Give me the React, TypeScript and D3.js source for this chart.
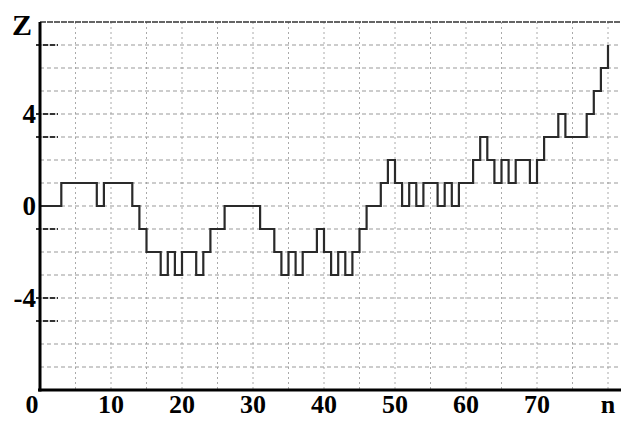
import React, { useEffect, useRef } from 'react';
import * as d3 from 'd3';

// Z level held on each step n = 0..80
const zValues = [
  0, 0, 0, 1, 1, 1, 1, 1, 0, 1,
  1, 1, 1, 0, -1, -2, -2, -3, -2, -3,
  -2, -2, -3, -2, -1, -1, 0, 0, 0, 0,
  0, -1, -1, -2, -3, -2, -3, -2, -2, -1,
  -2, -3, -2, -3, -2, -1, 0, 0, 1, 2,
  1, 0, 1, 0, 1, 1, 0, 1, 0, 1,
  1, 2, 3, 2, 1, 2, 1, 2, 2, 1,
  2, 3, 3, 4, 3, 3, 3, 4, 5, 6,
  7,
];

const xTickLabels = ['0', '10', '20', '30', '40', '50', '60', '70', 'n'];
const xTickValues = [0, 10, 20, 30, 40, 50, 60, 70, 80];
const yTickValues = [4, 0, -4];
const yGridValues = d3.range(-7, 8);
const xGridValues = d3.range(5, 81, 5);
const axisMarks = [7, 4, 3, -1, -4, -5];

const W = 621;
const H = 421;

const App = () => {
  const svgRef = useRef<SVGSVGElement>(null);

  useEffect(() => {
    const svg = d3.select(svgRef.current)
      .attr('width', W)
      .attr('height', H);

    svg.selectAll('*').remove();

    svg.append('rect')
      .attr('width', W)
      .attr('height', H)
      .attr('fill', '#fff');

    const left = 40;
    const right = 608;
    const top = 22;
    const bottom = 390;

    const x = d3.scaleLinear().domain([0, 80]).range([left, right]);
    const y = d3.scaleLinear().domain([-8, 8]).range([bottom, top]);

    // vertical dotted grid
    svg.append('g')
      .selectAll('line')
      .data(xGridValues)
      .join('line')
      .attr('x1', d => x(d))
      .attr('x2', d => x(d))
      .attr('y1', top)
      .attr('y2', bottom)
      .attr('stroke', '#aaa')
      .attr('stroke-width', 1)
      .attr('stroke-dasharray', '2,3');

    // horizontal dashed grid
    svg.append('g')
      .selectAll('line')
      .data(yGridValues)
      .join('line')
      .attr('x1', left)
      .attr('x2', W)
      .attr('y1', d => y(d))
      .attr('y2', d => y(d))
      .attr('stroke', '#999')
      .attr('stroke-width', 1)
      .attr('stroke-dasharray', '4,3');

    // darker marks next to the Z axis
    svg.append('g')
      .selectAll('line')
      .data(axisMarks)
      .join('line')
      .attr('x1', left - 4)
      .attr('x2', left + 18)
      .attr('y1', d => y(d))
      .attr('y2', d => y(d))
      .attr('stroke', '#333')
      .attr('stroke-width', 2)
      .attr('stroke-dasharray', '5,2');

    // top border
    svg.append('line')
      .attr('x1', left)
      .attr('x2', W)
      .attr('y1', top)
      .attr('y2', top)
      .attr('stroke', '#333')
      .attr('stroke-width', 1.5)
      .attr('stroke-dasharray', '6,1');

    // step line
    const line = d3.line<number>()
      .x((d, i) => x(i))
      .y(d => y(d))
      .curve(d3.curveStepAfter);

    svg.append('path')
      .datum(zValues)
      .attr('fill', 'none')
      .attr('stroke', '#2a2a2a')
      .attr('stroke-width', 2.2)
      .attr('d', line);

    // axes
    svg.append('line')
      .attr('x1', left)
      .attr('x2', left)
      .attr('y1', top)
      .attr('y2', bottom + 1.5)
      .attr('stroke', '#000')
      .attr('stroke-width', 3);

    svg.append('line')
      .attr('x1', left - 2)
      .attr('x2', W)
      .attr('y1', bottom)
      .attr('y2', bottom)
      .attr('stroke', '#000')
      .attr('stroke-width', 3);

    const font = '"Liberation Serif", "DejaVu Serif", serif';

    // x labels
    svg.append('g')
      .selectAll('text')
      .data(xTickValues)
      .join('text')
      .attr('x', (d, i) => (i === 0 ? x(d) - 8 : x(d)))
      .attr('y', 413)
      .attr('text-anchor', 'middle')
      .style('font-family', font)
      .style('font-weight', 'bold')
      .style('font-size', '26px')
      .text((d, i) => xTickLabels[i]);

    // y labels
    svg.append('g')
      .selectAll('text')
      .data(yTickValues)
      .join('text')
      .attr('x', 36)
      .attr('y', d => y(d))
      .attr('dy', '0.35em')
      .attr('text-anchor', 'end')
      .style('font-family', font)
      .style('font-weight', 'bold')
      .style('font-size', '27px')
      .text(d => (d < 0 ? `-${Math.abs(d)}` : `${d}`));

    svg.append('text')
      .attr('x', 22)
      .attr('y', 35)
      .attr('text-anchor', 'middle')
      .style('font-family', font)
      .style('font-weight', 'bold')
      .style('font-size', '30px')
      .text('Z');
  }, []);

  return (
    <div style={{ position: 'absolute', left: 0, top: 0 }}>
      <svg ref={svgRef} style={{ display: 'block' }}></svg>
    </div>
  );
};

export default App;
